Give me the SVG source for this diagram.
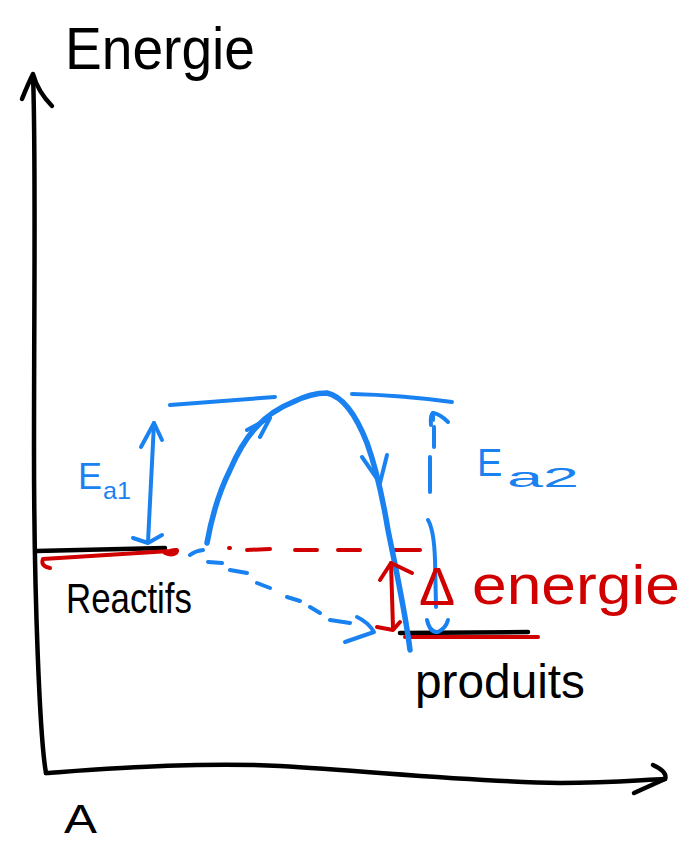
<svg xmlns="http://www.w3.org/2000/svg" width="684" height="842" viewBox="0 0 684 842">
<style>
.k{fill:none;stroke:#000;stroke-width:4.5;stroke-linecap:round;stroke-linejoin:round}
.b{fill:none;stroke:#1a82f0;stroke-width:4;stroke-linecap:round;stroke-linejoin:round}
.bt{fill:none;stroke:#1a82f0;stroke-width:5.5;stroke-linecap:round;stroke-linejoin:round}
.r{fill:none;stroke:#d00000;stroke-width:4;stroke-linecap:round;stroke-linejoin:round}
.t{font-family:"Liberation Sans","DejaVu Sans",sans-serif}
</style>
<rect width="684" height="842" fill="#fff"/>
<g id="axes">
<path class="k" d="M46,773 C40,740 34,600 34,450 C34,300 36,150 33,76"/>
<path class="k" d="M22,99 Q28,84 33,74 Q38,92 52,106"/>
<path class="k" d="M46,773 C120,768 200,762 280,766 C380,772 480,782 560,783 C610,783 640,780 665,779"/>
<path class="k" d="M653,765 Q668,772 665,779 L634,793"/>
<text class="t" x="64" y="833" font-size="40" textLength="33" lengthAdjust="spacingAndGlyphs">A</text>
<text class="t" x="65" y="69" font-size="60" textLength="190" lengthAdjust="spacingAndGlyphs">Energie</text>
</g>
<g id="reactifs">
<path class="k" d="M36,551 L165,548"/>
<path class="r" d="M50,568 Q40,566 43,559 L170,551 Q180,548 176,553 Q172,556 165,553"/>
<text class="t" x="66" y="613" font-size="42" textLength="126" lengthAdjust="spacingAndGlyphs">Reactifs</text>
</g>
<g id="produits">
<path class="k" d="M400,633 L528,632"/>
<path class="r" d="M405,637 L538,637"/>
<text class="t" x="415" y="698" font-size="48" textLength="170" lengthAdjust="spacingAndGlyphs">produits</text>
</g>
<g id="connectors">
<path class="r" stroke-width="3" d="M229,548 L230,548 M247,550 L270,549 M295,550 L317,550 M338,550 L360,550 M393,550 L420,550"/>
<path class="bt" d="M207,543 C212,515 220,490 230,470 C243,440 260,415 293,402 C305,396 315,393 327,393 C345,397 358,420 367,443 C375,465 383,500 388,530 C394,560 405,610 410,650"/>
<path class="b" d="M247,430 L270,418 L260,437"/>
<path class="b" d="M362,457 L380,483 L387,455"/>
<path class="b" d="M170,405 L275,397"/>
<path class="b" d="M352,394 Q400,395 452,402"/>
<path class="b" d="M154,423 L148,542"/>
<path class="b" d="M141,447 L154,423 L162,440"/>
<path class="b" d="M133,538 L148,543 L162,535"/>
<path class="b" stroke-width="3" d="M433,413 L433,420 M434,427 L434,447 M430,457 L430,492 M428,520 Q434,530 435,560 L436,607"/>
<path class="b" stroke-width="3" d="M431,425 Q430,415 433,413 Q440,414 448,422"/>
<path class="b" stroke-width="3" d="M427,620 Q430,633 438,632 Q446,628 448,620"/>
<path class="b" stroke-width="3.5" d="M190,555 Q195,551 203,550 M208,562 L222,563 M230,570 L247,573 M257,583 L270,588 M287,597 L300,601 M310,607 L320,613 M330,620 L350,623"/>
<path class="b" stroke-width="3.5" d="M357,617 Q368,622 374,632 L345,642"/>
<path class="r" d="M391,563 L393,628"/>
<path class="r" d="M380,580 L391,563 L412,573"/>
<path class="r" d="M377,627 L393,630 L400,622"/>
</g>
<g id="labels">
<text class="t" x="78" y="489" font-size="36" fill="#1a82f0">E</text>
<text class="t" x="103" y="499" font-size="24" fill="#1a82f0" textLength="28" lengthAdjust="spacingAndGlyphs">a1</text>
<text class="t" x="477" y="476" font-size="38" fill="#1a82f0">E</text>
<text class="t" x="507" y="487" font-size="28" fill="#1a82f0" textLength="72" lengthAdjust="spacingAndGlyphs">a2</text>
<text class="t" x="419" y="605" font-size="54" fill="#d00000">Δ</text>
<text class="t" x="472" y="604" font-size="56" fill="#d00000" textLength="208" lengthAdjust="spacingAndGlyphs">energie</text>
</g>
</svg>
